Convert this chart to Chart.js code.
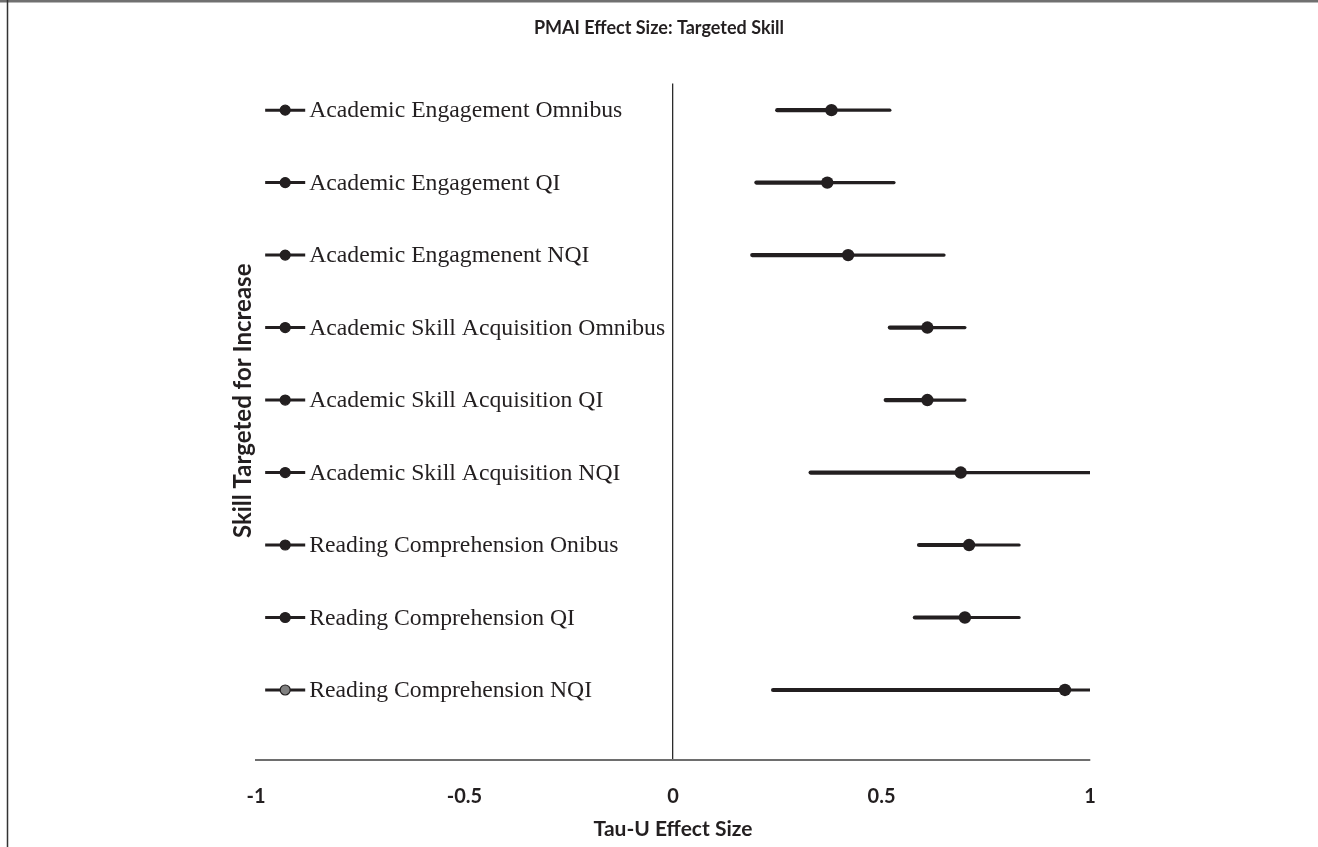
<!DOCTYPE html>
<html>
<head>
<meta charset="utf-8">
<script src="https://cdn.jsdelivr.net/npm/chart.js@4.4.1/dist/chart.umd.min.js"></script>
<style>
html,body{margin:0;padding:0;background:#fff;}
canvas{display:block;}
</style>
</head>
<body>
<canvas id="c" width="1318" height="847" style="width:1318px;height:847px"></canvas>
<script>
const categories = [
  'Academic Engagement Omnibus',
  'Academic Engagement QI',
  'Academic Engagmenent NQI',
  'Academic Skill Acquisition Omnibus',
  'Academic Skill Acquisition QI',
  'Academic Skill Acquisition NQI',
  'Reading Comprehension Onibus',
  'Reading Comprehension QI',
  'Reading Comprehension NQI'
];
const estimates = [0.38, 0.37, 0.42, 0.61, 0.61, 0.69, 0.71, 0.70, 0.94];
const lowerCI   = [0.25, 0.20, 0.19, 0.52, 0.51, 0.33, 0.59, 0.58, 0.24];
const upperCI   = [0.52, 0.53, 0.65, 0.70, 0.70, 1.00, 0.83, 0.83, 1.00];
const markerFill = ['#231f20','#231f20','#231f20','#231f20','#231f20','#231f20','#231f20','#231f20','#808080'];
const tickLabels = ['-1', '-0.5', '0', '0.5', '1'];
const keyLine = [-0.978, -0.882];
const keyDot = -0.93;
const yTitle = 'Skill Targeted for Increase';

const INK = '#231f20';
const rows = categories.map((c, i) => i + 1);

const datasets = [];
datasets.push({
  type: 'scatter', order: 0,
  data: estimates.map((v, i) => ({x: v, y: rows[i]})),
  pointRadius: 6.2, pointBackgroundColor: INK, pointBorderColor: INK, pointBorderWidth: 0
});
datasets.push({
  type: 'scatter', order: 0,
  data: rows.map(r => ({x: keyDot, y: r})),
  pointRadius: 5, pointBackgroundColor: markerFill, pointBorderColor: INK, pointBorderWidth: 1.2
});
rows.forEach((r, i) => {
  datasets.push({
    type: 'line', order: 1, showLine: true,
    data: [{x: lowerCI[i], y: r}, {x: estimates[i], y: r}],
    borderColor: INK, borderWidth: 4.2, pointRadius: 0, borderCapStyle: 'round'
  });
  datasets.push({
    type: 'line', order: 1, showLine: true,
    data: [{x: estimates[i], y: r}, {x: upperCI[i], y: r}],
    borderColor: INK, borderWidth: 3.2, pointRadius: 0, borderCapStyle: 'round'
  });
  datasets.push({
    type: 'line', order: 1, showLine: true,
    data: [{x: keyLine[0], y: r}, {x: keyLine[1], y: r}],
    borderColor: INK, borderWidth: 3, pointRadius: 0
  });
});

const frame = {
  id: 'frame',
  beforeDraw(chart) {
    const ctx = chart.ctx;
    ctx.save();
    ctx.fillStyle = '#fff';
    ctx.fillRect(0, 0, chart.width, chart.height);
    ctx.strokeStyle = '#707070';
    ctx.lineWidth = 2.5;
    ctx.beginPath(); ctx.moveTo(0, 1.2); ctx.lineTo(chart.width, 1.2); ctx.stroke();
    ctx.strokeStyle = '#333';
    ctx.lineWidth = 1.5;
    ctx.beginPath(); ctx.moveTo(7.5, 0); ctx.lineTo(7.5, chart.height); ctx.stroke();
    ctx.restore();
  }
};

const rowLabels = {
  id: 'rowLabels',
  afterDatasetsDraw(chart) {
    const ctx = chart.ctx;
    const xs = chart.scales.x, ys = chart.scales.y;
    ctx.save();
    ctx.font = '23.7px "Liberation Serif", "Times New Roman", serif';
    ctx.fillStyle = INK;
    ctx.textAlign = 'left';
    ctx.textBaseline = 'middle';
    categories.forEach((c, i) => {
      ctx.fillText(c, xs.getPixelForValue(keyLine[1]) + 4, ys.getPixelForValue(rows[i]) + 1);
    });
    // y-axis title
    const ca = chart.chartArea;
    ctx.translate(243, (ca.top + ca.bottom) / 2 - 21);
    ctx.rotate(-Math.PI / 2);
    ctx.font = 'bold 24px Lato, sans-serif';
    ctx.textAlign = 'center';
    ctx.textBaseline = 'middle';
    ctx.fillText(yTitle, 0, 0);
    ctx.restore();
  }
};

new Chart(document.getElementById('c'), {
  type: 'scatter',
  data: { datasets },
  plugins: [frame, rowLabels],
  options: {
    responsive: false,
    animation: false,
    layout: { padding: { left: 228, right: 228, top: 0, bottom: 0 } },
    plugins: {
      legend: { display: false },
      tooltip: { enabled: false },
      title: {
        display: true,
        text: 'PMAI Effect Size: Targeted Skill',
        color: INK,
        font: { family: 'Lato', weight: 'bold', size: 18 },
        padding: { top: 17, bottom: 45 }
      }
    },
    scales: {
      x: {
        type: 'linear', min: -1, max: 1,
        afterFit(s) { s.height = 87; },
        ticks: {
          stepSize: 0.5,
          padding: 25,
          color: INK,
          font: { family: 'Lato', weight: 'bold', size: 20 },
          callback: (v, i) => tickLabels[i]
        },
        grid: {
          display: true, drawTicks: false,
          color: c => (c.tick && c.tick.value === 0) ? '#2b2b2b' : 'rgba(0,0,0,0)',
          lineWidth: 1.3
        },
        border: { display: true, color: '#6e6e6e', width: 2 },
        title: {
          display: true, text: 'Tau-U Effect Size', color: INK,
          font: { family: 'Lato', weight: 'bold', size: 21 },
          padding: { top: 0, bottom: 5 }
        }
      },
      y: {
        type: 'linear', reverse: true, min: 0.634, max: 9.966,
        afterFit(s) { s.width = 28; },
        ticks: { display: false },
        grid: { display: false },
        border: { display: false },
        title: { display: false }
      }
    }
  }
});
</script>
</body>
</html>
